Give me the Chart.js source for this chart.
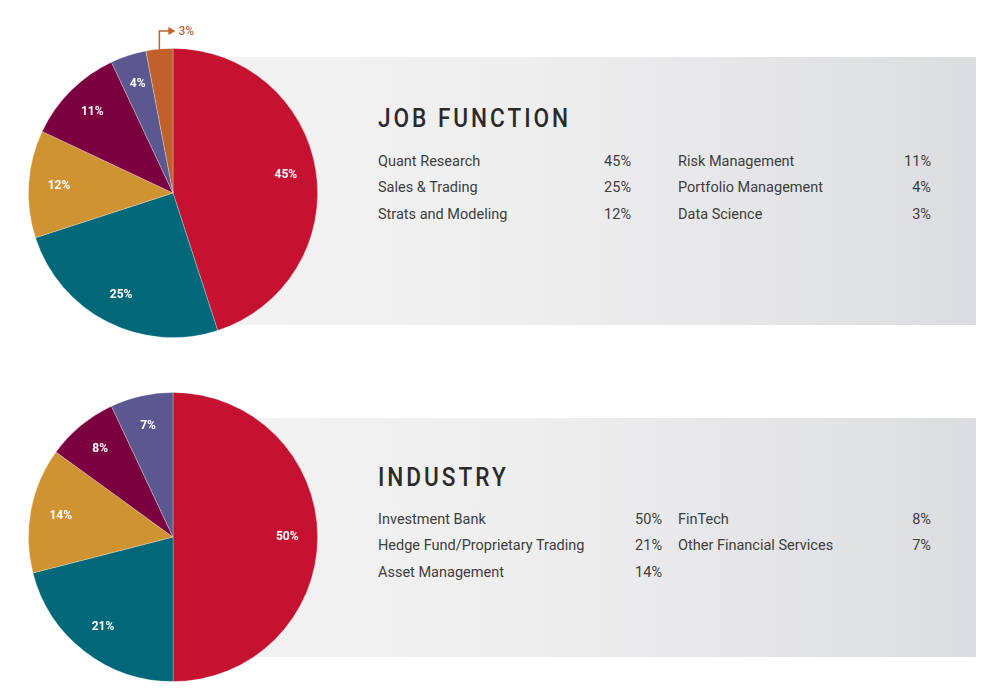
<!DOCTYPE html>
<html lang="en">
<head>
    <meta charset="UTF-8">
    <title>Job Function & Industry</title>
    <script src="https://cdn.jsdelivr.net/npm/chart.js"></script>
    <style>
        body {
            margin: 0;
            background: #fff;
            font-family: 'Roboto', sans-serif;
            width: 995px;
            height: 693px;
            position: relative;
            overflow: hidden;
        }

        /* gray panels behind the legend text */
        .panel {
            position: absolute;
            left: 173px;
            width: 803px;
            background: linear-gradient(to right, #f3f3f3 0%, #eeeeef 45%, #dcdde0 100%);
        }
        .panel.job { top: 57px; height: 268px; }
        .panel.ind { top: 418px; height: 239px; }

        .pie-box {
            position: absolute;
            left: 13px;
            width: 320px;
            height: 340px;
        }
        .pie-box.job { top: 13px; }
        .pie-box.ind { top: 357px; }

        .title {
            position: absolute;
            left: 378px;
            font-size: 26px;
            font-weight: 500;
            letter-spacing: 3.4px;
            color: #2b2b2b;
            transform: scaleX(0.87);
            transform-origin: left center;
            line-height: 1;
        }
        .title.job { top: 105px; }
        .title.ind { top: 464px; }

        .row {
            position: absolute;
            font-size: 14.5px;
            color: #3d3d3d;
            line-height: 1;
        }
        .row .val { position: absolute; text-align: right; width: 60px; }
    </style>
</head>
<body>

    <div class="panel job"></div>
    <div class="panel ind"></div>

    <div class="pie-box job"><canvas id="jobChart" width="320" height="340"></canvas></div>
    <div class="pie-box ind"><canvas id="indChart" width="320" height="340"></canvas></div>

    <div class="title job">JOB FUNCTION</div>
    <div class="title ind">INDUSTRY</div>

    <div id="jobLegend"></div>
    <div id="indLegend"></div>

    <script>
        // job function data
        var jobLabels = ["Quant Research", "Sales & Trading", "Strats and Modeling", "Risk Management", "Portfolio Management", "Data Science"];
        var jobValues = [45, 25, 12, 11, 4, 3];

        // industry data
        var indLabels = ["Investment Bank", "Hedge Fund/Proprietary Trading", "Asset Management", "FinTech", "Other Financial Services"];
        var indValues = [50, 21, 14, 8, 7];

        var sliceColors = ["#c41230", "#006878", "#d09332", "#7b0040", "#5b5890", "#c0602a"];

        // draws the percent text on each slice; small slices can be called out with an arrow
        var sliceLabels = {
            id: "sliceLabels",
            afterDatasetsDraw: function(chart, args, opts) {
                var ctx = chart.ctx;
                var meta = chart.getDatasetMeta(0);
                var vals = chart.data.datasets[0].data;
                ctx.save();
                ctx.font = "bold 12px Roboto, sans-serif";
                ctx.textAlign = "center";
                ctx.textBaseline = "middle";
                meta.data.forEach(function(arc, i) {
                    var mid = (arc.startAngle + arc.endAngle) / 2;
                    if (opts.callout === i) {
                        // vertical line up from the arc, then an arrow to the right
                        var x0 = arc.x + arc.outerRadius * Math.cos(mid);
                        var y0 = arc.y + arc.outerRadius * Math.sin(mid);
                        var yTop = y0 - 18;
                        ctx.strokeStyle = sliceColors[i];
                        ctx.fillStyle = sliceColors[i];
                        ctx.lineWidth = 1.5;
                        ctx.beginPath();
                        ctx.moveTo(x0, y0);
                        ctx.lineTo(x0, yTop);
                        ctx.lineTo(x0 + 10, yTop);
                        ctx.stroke();
                        ctx.beginPath();
                        ctx.moveTo(x0 + 16, yTop);
                        ctx.lineTo(x0 + 9, yTop - 4);
                        ctx.lineTo(x0 + 9, yTop + 4);
                        ctx.closePath();
                        ctx.fill();
                        ctx.font = "500 12px Roboto, sans-serif";
                        ctx.textAlign = "left";
                        ctx.fillText(vals[i] + "%", x0 + 19, yTop + 1);
                        ctx.font = "bold 12px Roboto, sans-serif";
                        ctx.textAlign = "center";
                        return;
                    }
                    var r = arc.outerRadius * 0.79;
                    ctx.fillStyle = "#ffffff";
                    ctx.fillText(vals[i] + "%", arc.x + r * Math.cos(mid), arc.y + r * Math.sin(mid));
                });
                ctx.restore();
            }
        };

        function makePie(id, labels, values, callout) {
            new Chart(document.getElementById(id).getContext("2d"), {
                type: "pie",
                data: {
                    labels: labels,
                    datasets: [{
                        data: values,
                        backgroundColor: sliceColors.slice(0, values.length),
                        borderColor: "rgba(255,255,255,0.35)",
                        borderWidth: 0.8
                    }]
                },
                options: {
                    responsive: false,
                    animation: false,
                    layout: { padding: { top: 35, bottom: 15, left: 15, right: 15 } },
                    plugins: {
                        legend: { display: false },
                        tooltip: { enabled: false },
                        sliceLabels: { callout: callout }
                    }
                },
                plugins: [sliceLabels]
            });
        }

        // two-column text legend: name on the left, value right-aligned
        function makeLegend(boxId, labels, values, top, rowsPerCol, valRight1) {
            var box = document.getElementById(boxId);
            var colX = [378, 678];
            var valX = [valRight1, 931];
            labels.forEach(function(name, i) {
                var col = Math.floor(i / rowsPerCol);
                var row = i % rowsPerCol;
                var el = document.createElement("div");
                el.className = "row";
                el.style.left = colX[col] + "px";
                el.style.top = (top + row * 26.7) + "px";
                el.innerHTML = name + '<span class="val" style="left:' + (valX[col] - colX[col] - 60) + 'px">' + values[i] + '%</span>';
                box.appendChild(el);
            });
        }

        makePie("jobChart", jobLabels, jobValues, 5);
        makePie("indChart", indLabels, indValues, -1);
        makeLegend("jobLegend", jobLabels, jobValues, 154.5, 3, 631);
        makeLegend("indLegend", indLabels, indValues, 512.5, 3, 662);
    </script>

</body>
</html>
